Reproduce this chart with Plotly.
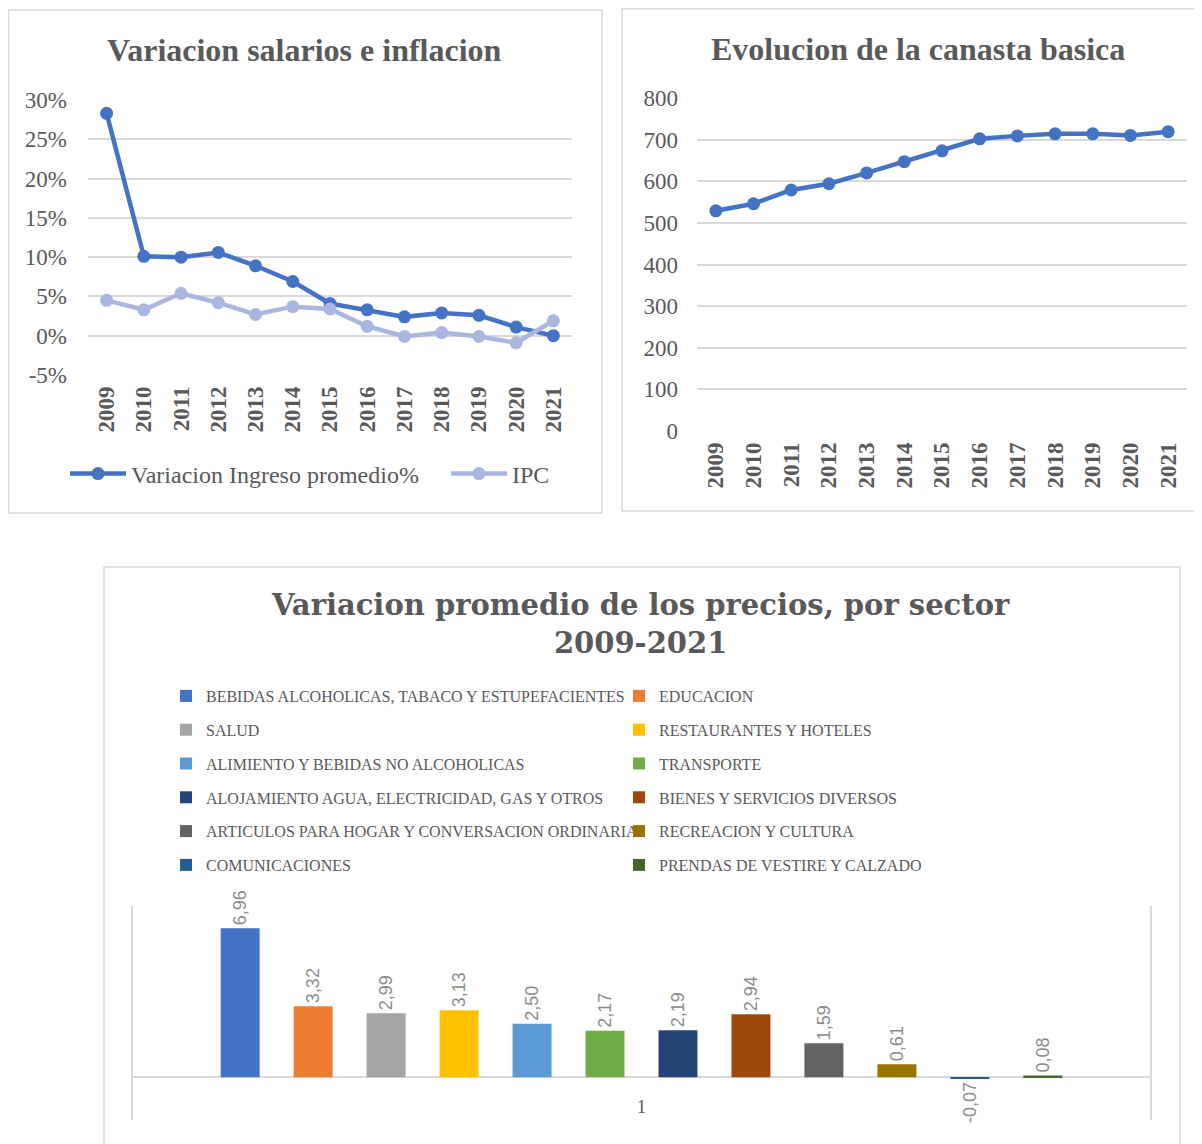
import plotly.graph_objects as go

W, H = 1202, 1144
OFF = 8  # page body margin of the html page

# ---------------- data ----------------
years = ["2009", "2010", "2011", "2012", "2013", "2014", "2015",
         "2016", "2017", "2018", "2019", "2020", "2021"]
ingreso_pct = [28.3, 10.1, 10.0, 10.6, 8.9, 6.9, 4.1, 3.3, 2.4, 2.9, 2.6, 1.1, 0.0]
ipc_pct = [4.5, 3.3, 5.4, 4.2, 2.7, 3.7, 3.4, 1.2, -0.1, 0.4, -0.1, -0.9, 1.9]
pct_ticks = [-5, 0, 5, 10, 15, 20, 25, 30]
pct_labels = ["-5%", "0%", "5%", "10%", "15%", "20%", "25%", "30%"]
canasta = [529, 546, 579, 594, 620, 647, 673, 702, 709, 714, 714, 710, 719]

sectores = [
    "BEBIDAS ALCOHOLICAS, TABACO Y ESTUPEFACIENTES",
    "EDUCACION",
    "SALUD",
    "RESTAURANTES Y HOTELES",
    "ALIMIENTO Y BEBIDAS NO ALCOHOLICAS",
    "TRANSPORTE",
    "ALOJAMIENTO AGUA, ELECTRICIDAD, GAS Y OTROS",
    "BIENES Y SERVICIOS DIVERSOS",
    "ARTICULOS PARA HOGAR Y CONVERSACION ORDINARIA",
    "RECREACION Y CULTURA",
    "COMUNICACIONES",
    "PRENDAS DE VESTIRE Y CALZADO",
]
variacion = [6.96, 3.32, 2.99, 3.13, 2.50, 2.17, 2.19, 2.94, 1.59, 0.61, -0.07, 0.08]
bar_colors = ["#4472C4", "#ED7D31", "#A5A5A5", "#FFC000", "#5B9BD5", "#70AD47",
              "#264478", "#9E480E", "#636363", "#997300", "#255E91", "#43682B"]
categoria = ["1"]

# ---------------- helpers (screen pixels -> paper) ----------------
def px_x(x):
    return (x - OFF) / W

def px_y(y):
    return 1 - (y - OFF) / H

SERIF = "Liberation Serif, Times New Roman, serif"
GRAY = "#595959"
GRID = "#D9D9D9"

fig = go.Figure()

# Top-left: salarios e inflacion
fig.add_trace(go.Scatter(
    x=years, y=ingreso_pct, name="Variacion Ingreso promedio%",
    mode="lines+markers", line=dict(color="#4472C4", width=4.5),
    marker=dict(size=13, color="#4472C4"), xaxis="x", yaxis="y", legend="legend"))
fig.add_trace(go.Scatter(
    x=years, y=ipc_pct, name="IPC",
    mode="lines+markers", line=dict(color="#A9B7E0", width=4.5),
    marker=dict(size=13, color="#A9B7E0"), xaxis="x", yaxis="y", legend="legend"))

# Top-right: canasta basica
fig.add_trace(go.Scatter(
    x=years, y=canasta, name="Canasta basica", showlegend=False,
    mode="lines+markers", line=dict(color="#4472C4", width=4.5),
    marker=dict(size=13, color="#4472C4"), xaxis="x2", yaxis="y2"))

# Bottom: bars by sector
for i, (name, val, col) in enumerate(zip(sectores, variacion, bar_colors)):
    fig.add_trace(go.Bar(
        x=categoria, y=[val], name=name, marker=dict(color=col, line=dict(width=0)),
        text=[f"{val:.2f}".replace(".", ",")], textposition="outside",
        textangle=-90, constraintext="none", cliponaxis=False,
        outsidetextfont=dict(family="Liberation Sans, Arial, sans-serif", size=18, color="#8C8C8C"),
        xaxis="x3", yaxis="y3",
        legend="legend2" if i % 2 == 0 else "legend3",
        legendgroup=f"g{i}",
    ))

ytick_font = dict(family=SERIF, size=23, color=GRAY)
xtick_font = dict(family=SERIF, size=23, color=GRAY, weight="bold")

fig.update_layout(
    width=W, height=H,
    margin=dict(l=0, r=0, t=0, b=0, autoexpand=False),
    paper_bgcolor="white", plot_bgcolor="white",
    barmode="group", bargap=0.139, bargroupgap=0.466,
    font=dict(family=SERIF, color=GRAY),
    xaxis=dict(domain=[px_x(88), px_x(572)], anchor="y", type="category", range=[-0.5, 12.5],
               showgrid=False, zeroline=False, showline=False, ticks="",
               tickangle=-90, tickfont=xtick_font, ticklabelstandoff=6, fixedrange=True),
    yaxis=dict(domain=[px_y(375), px_y(100)], anchor="x", range=[-5, 30],
               tickvals=pct_ticks, ticktext=pct_labels,
               showgrid=True, gridcolor=GRID, gridwidth=1.5, zeroline=False,
               tickfont=ytick_font, ticklabelstandoff=20, fixedrange=True),
    xaxis2=dict(domain=[px_x(697), px_x(1187)], anchor="y2", type="category", range=[-0.5, 12.5],
                showgrid=False, zeroline=False, showline=False, ticks="",
                tickangle=-90, tickfont=xtick_font, ticklabelstandoff=6, fixedrange=True),
    yaxis2=dict(domain=[px_y(431), px_y(98)], anchor="x2", range=[0, 800], dtick=100,
                showgrid=True, gridcolor=GRID, gridwidth=1.5, zeroline=False,
                tickfont=ytick_font, ticklabelstandoff=18, fixedrange=True),
    xaxis3=dict(domain=[px_x(133), px_x(1150)], anchor="y3", type="category", range=[-0.5, 0.5],
                showgrid=False, ticks="", showline=False, zeroline=False,
                ticklabelposition="inside", tickfont=dict(family=SERIF, size=19, color=GRAY),
                fixedrange=True),
    yaxis3=dict(domain=[px_y(1120), px_y(906)], anchor="x3", range=[-2, 8], showgrid=False,
                showticklabels=False, ticks="", showline=True, mirror=True,
                linecolor=GRID, linewidth=1.5,
                zeroline=True, zerolinecolor=GRID, zerolinewidth=2,
                fixedrange=True),
    legend=dict(orientation="h", x=px_x(65), y=px_y(474), xanchor="left", yanchor="middle",
                itemwidth=56, entrywidth=310, entrywidthmode="pixels",
                font=dict(family=SERIF, size=24, color=GRAY), bgcolor="rgba(0,0,0,0)"),
    legend2=dict(orientation="v", x=px_x(166), y=px_y(679), xanchor="left", yanchor="top",
                 tracegroupgap=10, itemwidth=30,
                 font=dict(family=SERIF, size=16, color=GRAY), bgcolor="rgba(0,0,0,0)"),
    legend3=dict(orientation="v", x=px_x(619), y=px_y(679), xanchor="left", yanchor="top",
                 tracegroupgap=10, itemwidth=30,
                 font=dict(family=SERIF, size=16, color=GRAY), bgcolor="rgba(0,0,0,0)"),
    showlegend=True,
)

# Panel frames
for (x0, y0, x1, y1) in [(8.5, 10, 602, 513), (622, 8.8, 1199, 511), (104, 567, 1180, 1160)]:
    fig.add_shape(type="rect", xref="paper", yref="paper",
                  x0=px_x(x0), x1=px_x(x1), y0=px_y(y1), y1=px_y(y0),
                  line=dict(color=GRID, width=1.5), fillcolor="rgba(0,0,0,0)", layer="below")

# Titles
title_font = dict(family=SERIF, size=32, color=GRAY, weight="bold")
fig.add_annotation(text="Variacion salarios e inflacion", x=px_x(304), y=px_y(50),
                   xref="paper", yref="paper", showarrow=False, font=title_font,
                   xanchor="center", yanchor="middle")
fig.add_annotation(text="Evolucion de la canasta basica", x=px_x(918), y=px_y(49),
                   xref="paper", yref="paper", showarrow=False, font=title_font,
                   xanchor="center", yanchor="middle")
fig.add_annotation(text="Variacion promedio de los precios, por sector<br>2009-2021",
                   x=px_x(640), y=px_y(624), xref="paper", yref="paper", showarrow=False,
                   font=dict(family="DejaVu Serif, serif", size=29, color=GRAY, weight="bold"),
                   xanchor="center", yanchor="middle")

fig.write_html("out.html")
